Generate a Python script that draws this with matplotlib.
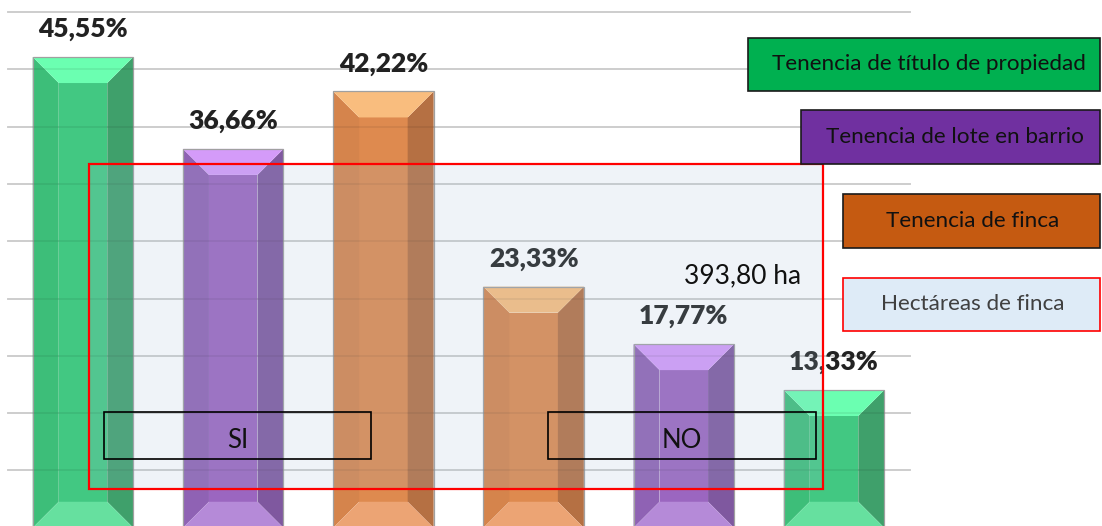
import matplotlib.pyplot as plt
from matplotlib.patches import Polygon, Rectangle
import numpy as np

# datos
valores = [45.55, 36.66, 42.22, 23.33, 17.77, 13.33]
etiquetas = ['45,55%', '36,66%', '42,22%', '23,33%', '17,77%', '13,33%']
tipo = ['titulo', 'lote', 'finca', 'finca', 'lote', 'titulo']
leyenda = ['Tenencia de título de propiedad', 'Tenencia de lote en barrio',
           'Tenencia de finca', 'Hectáreas de finca']
grupos = ['SI', 'NO']
hectareas = '393,80 ha'

# colores de cada cara: centro, izquierda, derecha, arriba, abajo
caras = {
    'titulo': ['#42c882', '#3dbe79', '#3fa06b', '#6bffb1', '#66e09f'],
    'lote':   ['#9b66c0', '#8f62b4', '#7f589f', '#d49bf9', '#b58ad8'],
    'finca':  ['#de8a4f', '#d5844c', '#b57043', '#f9bd7e', '#eca474'],
}

W, H = 1102, 526
plt.rcParams['font.family'] = ['Lato', 'DejaVu Sans']
fig = plt.figure(figsize=(W / 100, H / 100), dpi=100)
ax = fig.add_axes([0, 0, 1, 1])
xlim = (-0.5526, 6.784)
ylim = (0.17, 51.07)
ax.set_xlim(*xlim)
ax.set_ylim(*ylim)
ax.axis('off')

# lineas de cuadricula
for g in np.linspace(0, 49.9, 10):
    ax.axhline(g, xmin=0.0075, xmax=0.826, color='#d9d9d9', lw=1.3, zorder=0)

# bisel en unidades de datos (~26 px)
px_x = W / (xlim[1] - xlim[0])
px_y = H / (ylim[1] - ylim[0])
bx = 26 / px_x
by = 26 / px_y
ancho = 0.669

x = np.arange(len(valores))
for xi, v, t, lab in zip(x, valores, tipo, etiquetas):
    c, cl, cr, ct, cb = caras[t]
    x0, x1 = xi - ancho / 2, xi + ancho / 2
    b = 0
    polys = [
        ([(x0 + bx, b + by), (x1 - bx, b + by), (x1 - bx, v - by), (x0 + bx, v - by)], c),
        ([(x0, b), (x0 + bx, b + by), (x0 + bx, v - by), (x0, v)], cl),
        ([(x1, b), (x1 - bx, b + by), (x1 - bx, v - by), (x1, v)], cr),
        ([(x0, v), (x1, v), (x1 - bx, v - by), (x0 + bx, v - by)], ct),
        ([(x0, b), (x1, b), (x1 - bx, b + by), (x0 + bx, b + by)], cb),
    ]
    for pts, col in polys:
        ax.add_patch(Polygon(pts, closed=True, facecolor=col, edgecolor='none', zorder=2))
    ax.add_patch(Rectangle((x0, b), ancho, v, fill=False, edgecolor='#a0a0a0', lw=0.9, zorder=3))
    ax.annotate(lab, (xi, v), xytext=(0, 20), textcoords='offset points',
                ha='center', va='center', fontsize=19, fontweight='heavy',
                color='#222222', zorder=4)

# lineas de cuadricula sobre las barras (transparencia)
for g in np.linspace(0, 49.9, 10):
    ax.axhline(g, xmin=0.0075, xmax=0.826, color='black', alpha=0.07, lw=1.3, zorder=3.5)


def caja(x0, y0, x1, y1, **kw):
    r = Rectangle((x0 / W, 1 - y1 / H), (x1 - x0) / W, (y1 - y0) / H,
                  transform=fig.transFigure, **kw)
    fig.add_artist(r)
    return r


# recuadro rojo
caja(89, 164, 823, 489, facecolor='#a1bdd6', edgecolor='none', alpha=0.17, zorder=5)
caja(89, 164, 823, 489, fill=False, edgecolor='#ff0000', lw=1.6, zorder=6)

# cajas SI / NO
for (x0, x1), txt in zip([(104, 371), (548, 816)], grupos):
    caja(x0, 412, x1, 459, fill=False, edgecolor='black', lw=1.2, zorder=6)
    fig.text((x0 + x1) / 2 / W, 1 - 440 / H, txt, ha='center', va='center',
             fontsize=18.5, color='#111111', zorder=7)

fig.text(743 / W, 1 - 276 / H, hectareas, ha='center', va='center',
         fontsize=19, color='#111111', zorder=7)

# leyenda
cajas_ley = [(748, 38, 1100, 91), (801, 110, 1100, 164), (843, 194, 1100, 248), (843, 278, 1100, 331)]
fondo_ley = ['#00b050', '#7030a0', '#c55a11', '#deebf7']
borde_ley = ['#1a1a1a', '#1a1a1a', '#1a1a1a', '#ff0000']
centro_txt = [929, 955, 973, 973]
color_txt = ['#111111', '#111111', '#111111', '#404040']
for (x0, y0, x1, y1), fc, ec, cx, ct, txt in zip(cajas_ley, fondo_ley, borde_ley, centro_txt, color_txt, leyenda):
    caja(x0, y0, x1, y1, facecolor=fc, edgecolor=ec, lw=1.2, zorder=6)
    fig.text(cx / W, 1 - (y0 + y1) / 2 / H, txt, ha='center', va='center',
             fontsize=16.2, color=ct, zorder=7)

plt.savefig('out.png', dpi=100)
